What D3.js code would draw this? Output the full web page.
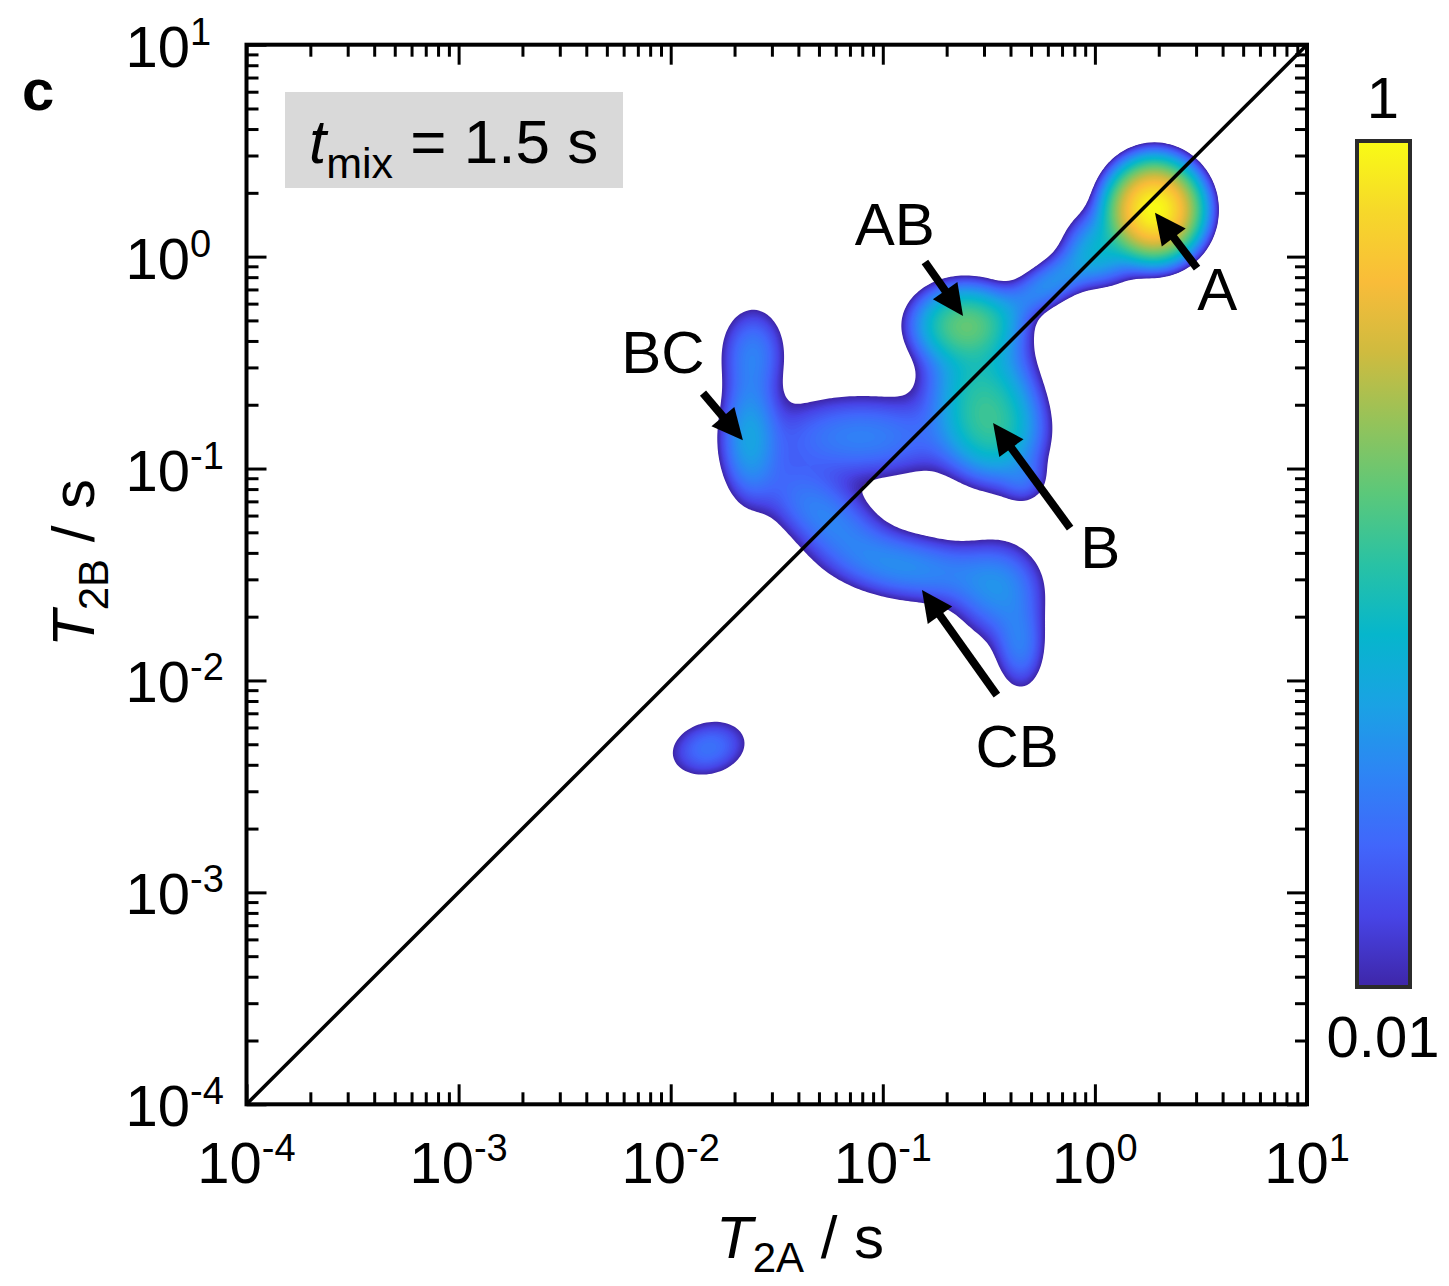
<!DOCTYPE html>
<html>
<head>
<meta charset="utf-8">
<script src="https://cdn.jsdelivr.net/npm/d3@7"></script>
<style>
  body { margin: 0; background: #fff; }
  text { font-family: "Liberation Sans", Arial, sans-serif; fill: #000; }
</style>
</head>
<body>
<div id="chart-area"></div>
<script>
// Peak components of the T2-T2 exchange map (centres in s, widths in decades)
const peakNames  = ["A", "neckA", "neck", "AB", "bridge", "B", "Blobe", "BC", "BCarm", "band", "link", "CB", "CBright", "CBtail", "small"];
const peakT2A    = [1.91, 1.07, 0.63, 0.245, 0.28, 0.324, 0.468, 0.0234, 0.0245, 0.079, 0.0525, 0.141, 0.355, 0.447, 0.0151];
const peakT2B    = [1.66, 1.10, 0.76, 0.479, 0.28, 0.162, 0.087, 0.141, 0.355, 0.141, 0.0603, 0.0339, 0.0263, 0.0141, 0.00479];
const peakWidthA = [0.10, 0.10, 0.18, 0.13, 0.14, 0.13, 0.07, 0.08, 0.10, 0.30, 0.22, 0.25, 0.13, 0.075, 0.127];
const peakWidthB = [0.105, 0.10, 0.065, 0.10, 0.14, 0.15, 0.07, 0.18, 0.14, 0.13, 0.11, 0.10, 0.15, 0.13, 0.089];
const peakAngle  = [0, 30, 32, 0, 0, 20, 0, 0, 0, 0, -35, -8, 0, 0, 15];
const peakHeight = [1.0, 0.05, 0.035, 0.14, 0.05, 0.10, 0.015, 0.04, 0.027, 0.03, 0.03, 0.032, 0.03, 0.025, 0.025];

// Axis ticks
const decadeTicks = [1e-4, 1e-3, 1e-2, 1e-1, 1, 10];
const decadeExps = ["-4", "-3", "-2", "-1", "0", "1"];

// Colour bar
const colorbarTicks = [1, 0.01];
const colorbarLabels = ["1", "0.01"];
const parulaColors = ["#3e26a8", "#4744e6", "#4166fb", "#2e84f5", "#1aa2e4", "#06b6cc",
  "#29c2a4", "#5bc87a", "#94c35a", "#cfbb3f", "#f9bc39", "#f6d82a", "#f9fb15"];

// Peak annotations (positions in s)
const annotLabels = ["AB", "A", "BC", "B", "CB"];
const annotT2A    = [0.114, 3.77, 0.0092, 1.06, 0.43];
const annotT2B    = [1.135, 0.56, 0.282, 0.034, 0.0039];
const arrowTailT2A = [0.158, 3.03, 0.0142, 0.764, 0.345];
const arrowTailT2B = [0.943, 0.883, 0.227, 0.0524, 0.00853];
const arrowHeadT2A = [0.239, 1.92, 0.0219, 0.331, 0.153];
const arrowHeadT2B = [0.525, 1.61, 0.136, 0.164, 0.0267];

// SVG container
let margin = { top: 44.7, right: 142, bottom: 181.7, left: 246.5 };
let width = 1449 - margin.left - margin.right,
  height = 1286 - margin.top - margin.bottom;

let root = d3.select("#chart-area")
  .append("svg")
  .attr("width", 1449)
  .attr("height", 1286)
  .style("display", "block");

root.append("rect").attr("width", 1449).attr("height", 1286).attr("fill", "#fff");

let svg = root.append("g")
  .attr("transform", "translate(" + margin.left + "," + margin.top + ")");

// Scales
let x = d3.scaleLog().domain([1e-4, 10]).range([0, width]);
let y = d3.scaleLog().domain([1e-4, 10]).range([height, 0]);

let parula = d3.piecewise(d3.interpolateRgb, parulaColors);
let color = d3.scaleSequentialLog(parula).domain([0.01, 1]).clamp(true);

// Build the map on a grid in log space
const n = 400, lo = -4, hi = 1, step = (hi - lo) / n;
const values = new Float64Array(n * n);
const comps = peakNames.map((name, k) => ({
  cx: Math.log10(peakT2A[k]), cy: Math.log10(peakT2B[k]),
  sa: peakWidthA[k], sb: peakWidthB[k],
  c: Math.cos(peakAngle[k] * Math.PI / 180), s: Math.sin(peakAngle[k] * Math.PI / 180),
  h: peakHeight[k]
}));
let vmax = 0;
for (let j = 0; j < n; j++) {
  const ly = hi - (j + 0.5) * step;
  for (let i = 0; i < n; i++) {
    const lx = lo + (i + 0.5) * step;
    let v = 0;
    for (const p of comps) {
      const dx = lx - p.cx, dy = ly - p.cy;
      const u = (dx * p.c + dy * p.s) / p.sa;
      const w = (-dx * p.s + dy * p.c) / p.sb;
      const e = 0.5 * (u * u + w * w);
      if (e < 30) v += p.h * Math.exp(-e);
    }
    values[j * n + i] = v;
    if (v > vmax) vmax = v;
  }
}
for (let i = 0; i < values.length; i++) values[i] /= vmax;

const nLevels = 90;
const thresholds = d3.range(nLevels).map(k => Math.pow(10, -2 + 2 * k / nLevels));
const contours = d3.contours().size([n, n]).thresholds(thresholds)(values);

const projection = d3.geoTransform({
  point: function(px, py) {
    this.stream.point(x(Math.pow(10, lo + px * step)), y(Math.pow(10, hi - py * step)));
  }
});
const path = d3.geoPath(projection);

svg.append("defs").append("clipPath").attr("id", "plot-clip")
  .append("rect").attr("width", width).attr("height", height);

svg.append("g")
  .attr("clip-path", "url(#plot-clip)")
  .selectAll("path")
  .data(contours)
  .enter()
  .append("path")
  .attr("d", path)
  .attr("fill", d => color(d.value * Math.pow(10, 1 / nLevels)))
  .attr("stroke", "none");

// Diagonal T2A = T2B
svg.append("path")
  .datum([1e-4, 10])
  .attr("d", d3.line().x(d => x(d)).y(d => y(d)))
  .attr("stroke", "#000")
  .attr("stroke-width", 3.5)
  .attr("fill", "none");

// Axes: inward ticks on all four sides
const isDecade = d => Math.abs(Math.log10(d) - Math.round(Math.log10(d))) < 1e-6;
const minorTicks = x.ticks().filter(d => !isDecade(d));

function drawAxis(axisFn, scale, transform, size, ticks) {
  let g = svg.append("g")
    .attr("class", "axis")
    .attr("transform", transform)
    .call(axisFn(scale).tickValues(ticks).tickSizeInner(-size).tickSizeOuter(0).tickFormat(""));
  g.select(".domain").remove();
  g.selectAll(".tick line").attr("stroke", "#000").attr("stroke-width", 3);
}
drawAxis(d3.axisBottom, x, "translate(0," + height + ")", 20, decadeTicks);
drawAxis(d3.axisBottom, x, "translate(0," + height + ")", 12, minorTicks);
drawAxis(d3.axisTop, x, "translate(0,0)", 20, decadeTicks);
drawAxis(d3.axisTop, x, "translate(0,0)", 12, minorTicks);
drawAxis(d3.axisLeft, y, "translate(0,0)", 20, decadeTicks);
drawAxis(d3.axisLeft, y, "translate(0,0)", 12, minorTicks);
drawAxis(d3.axisRight, y, "translate(" + width + ",0)", 20, decadeTicks);
drawAxis(d3.axisRight, y, "translate(" + width + ",0)", 12, minorTicks);

svg.append("rect")
  .attr("width", width)
  .attr("height", height)
  .attr("fill", "none")
  .attr("stroke", "#000")
  .attr("stroke-width", 4);

// Tick labels 10^n
function powerLabel(sel) {
  sel.text("10")
    .append("tspan")
    .attr("dy", -22)
    .style("font-size", "38px")
    .text((d, i) => decadeExps[i]);
}
svg.append("g").selectAll("text")
  .data(decadeTicks)
  .enter()
  .append("text")
  .attr("x", d => x(d))
  .attr("y", height + 79)
  .attr("text-anchor", "middle")
  .style("font-size", "58px")
  .call(powerLabel);

svg.append("g").selectAll("text")
  .data(decadeTicks)
  .enter()
  .append("text")
  .attr("x", -121)
  .attr("y", d => y(d) + 22)
  .attr("text-anchor", "start")
  .style("font-size", "58px")
  .call(powerLabel);

// Axis titles
let xTitle = root.append("text")
  .attr("x", 800)
  .attr("y", 1258)
  .attr("text-anchor", "middle")
  .style("font-size", "60px");
xTitle.append("tspan").style("font-style", "italic").text("T");
xTitle.append("tspan").attr("dy", 14).style("font-size", "42px").text("2A");
xTitle.append("tspan").attr("dy", -14).text(" / s");

let yTitle = root.append("text")
  .attr("transform", "translate(94,563) rotate(-90)")
  .attr("text-anchor", "middle")
  .style("font-size", "60px");
yTitle.append("tspan").style("font-style", "italic").text("T");
yTitle.append("tspan").attr("dy", 14).style("font-size", "42px").text("2B");
yTitle.append("tspan").attr("dy", -14).text(" / s");

// Panel letter
root.append("text")
  .attr("x", 22)
  .attr("y", 110)
  .style("font-size", "58px")
  .style("font-weight", "bold")
  .text("c");

// Mixing time box
root.append("rect")
  .attr("x", 285).attr("y", 92)
  .attr("width", 338).attr("height", 96)
  .attr("fill", "#d9d9d9");
let tmix = root.append("text")
  .attr("x", 309)
  .attr("y", 163)
  .style("font-size", "62px");
tmix.append("tspan").style("font-style", "italic").text("t");
tmix.append("tspan").attr("dy", 15).style("font-size", "43px").text("mix");
tmix.append("tspan").attr("dy", -15).text(" = 1.5 s");

// Peak labels and arrows
svg.append("g").selectAll("text")
  .data(annotLabels)
  .enter()
  .append("text")
  .attr("x", (d, i) => x(annotT2A[i]))
  .attr("y", (d, i) => y(annotT2B[i]))
  .attr("text-anchor", "middle")
  .style("font-size", "60px")
  .text(d => d);

let arrows = svg.append("g").selectAll("g")
  .data(annotLabels)
  .enter()
  .append("g");
arrows.each(function(d, i) {
  const x0 = x(arrowTailT2A[i]), y0 = y(arrowTailT2B[i]);
  const x1 = x(arrowHeadT2A[i]), y1 = y(arrowHeadT2B[i]);
  const len = Math.hypot(x1 - x0, y1 - y0);
  const ux = (x1 - x0) / len, uy = (y1 - y0) / len;
  const headLen = 31, headHalf = 15;
  const bx = x1 - ux * headLen, by = y1 - uy * headLen;
  d3.select(this).append("line")
    .attr("x1", x0).attr("y1", y0)
    .attr("x2", bx + ux * 2).attr("y2", by + uy * 2)
    .attr("stroke", "#000")
    .attr("stroke-width", 8);
  d3.select(this).append("path")
    .attr("d", "M" + x1 + "," + y1 +
      "L" + (bx - uy * headHalf) + "," + (by + ux * headHalf) +
      "L" + (bx + uy * headHalf) + "," + (by - ux * headHalf) + "Z")
    .attr("fill", "#000");
});

// Colour bar
let cbar = d3.scaleLog().domain([0.01, 1]).range([987, 141]);
let grad = root.append("defs").append("linearGradient")
  .attr("id", "cbar-grad")
  .attr("x1", 0).attr("y1", 1).attr("x2", 0).attr("y2", 0);
grad.selectAll("stop")
  .data(parulaColors)
  .enter()
  .append("stop")
  .attr("offset", (d, i) => i / (parulaColors.length - 1))
  .attr("stop-color", d => d);

root.append("rect")
  .attr("x", 1357)
  .attr("y", cbar(1))
  .attr("width", 53)
  .attr("height", cbar(0.01) - cbar(1))
  .attr("fill", "url(#cbar-grad)")
  .attr("stroke", "#2b2b2b")
  .attr("stroke-width", 4);

root.append("g").selectAll("text")
  .data(colorbarTicks)
  .enter()
  .append("text")
  .attr("x", 1383)
  .attr("y", (d, i) => i === 0 ? cbar(d) - 23 : cbar(d) + 70)
  .attr("text-anchor", "middle")
  .style("font-size", "58px")
  .text((d, i) => colorbarLabels[i]);
</script>
</body>
</html>
